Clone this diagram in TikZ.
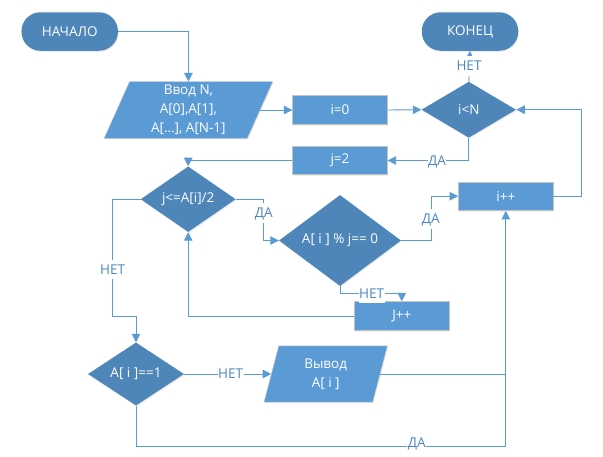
\documentclass[tikz,border=0pt]{standalone}
\usepackage{fontspec}
\setmainfont{Open Sans}
\usetikzlibrary{shapes.geometric,arrows.meta,shadows}

\definecolor{darkbox}{HTML}{4E86B9}
\definecolor{lightbox}{HTML}{5B9BD5}
\definecolor{wire}{HTML}{5B9BD5}
\definecolor{edgegrey}{HTML}{C4C4C4}
\definecolor{labelblue}{HTML}{4A86C0}

\begin{document}
\begin{tikzpicture}[x=1pt,y=-1pt,
  font=\fontsize{13.5}{19}\selectfont,
  every node/.style={text=white, inner sep=0pt, align=center},
  soft/.style={drop shadow={opacity=0.13, shadow xshift=0.9pt, shadow yshift=-1.3pt}},
  terminal/.style={rectangle, rounded corners=19pt, fill=darkbox,
    minimum width=96.5pt, minimum height=38.5pt, soft},
  process/.style={rectangle, fill=lightbox, draw=edgegrey, line width=0.8pt,
    minimum width=94.5pt, minimum height=28.5pt, soft},
  decision/.style={diamond, fill=darkbox, soft},
  iobox/.style={trapezium, trapezium stretches body, fill=lightbox,
    draw=edgegrey, line width=0.4pt, soft},
  flow/.style={draw=wire, line width=0.9pt},
  arrow/.style={flow, -{Triangle[length=8.5pt,width=8.5pt]}},
  lab/.style={fill=white, text=labelblue, inner xsep=0.6pt, inner ysep=5pt,
    text height=9.6pt, text depth=0pt}]

\useasboundingbox (0,0) rectangle (603,456);

% terminals
\node[terminal] (start) at (69.7,31.5) {НАЧАЛО};
\node[terminal] (stop)  at (470,31.5) {КОНЕЦ};

% input block
\node[iobox, trapezium left angle=63, trapezium right angle=117,
  minimum width=168.5pt, minimum height=56.6pt] (input) at (188.4,110)
  {Ввод N,\\A[0],A[1],\\A[…], A[N-1]};

% processing blocks
\node[process] (init) at (340,110) {i=0};
\node[process] (setj) at (340,160.5) {j=2};
\node[process] (inci) at (505.8,196.2) {i++};
\node[process] (incj) at (401.8,316) {J++};

% decisions
\node[decision, minimum width=94.5pt, minimum height=56pt] (loopi) at (468.8,109.7) {i<N};
\node[decision, minimum width=95pt, minimum height=57pt] (loopj) at (188.2,199.2) {j<=A[i]/2};
\node[decision, minimum width=122pt, minimum height=91pt] (divides) at (340,240.5) {A[ i ] \% j== 0};
\node[decision, minimum width=96pt, minimum height=56.5pt] (isone) at (136,374) {A[ i ]==1};

% output block
\node[iobox, trapezium left angle=64.4, trapezium right angle=115.6,
  minimum width=123.3pt, minimum height=56.3pt] (output) at (325.7,374)
  {Вывод\\A[ i ]};

% bend point of the "no" branch of the inner loop
\coordinate (bendA) at (112.7,316.7);

% connectors
\draw[arrow] (start.east) -| (input.north);
\draw[arrow] (input.right side) -- (init.west);
\draw[arrow] (init.east) -- (loopi.west);
\draw[arrow] (loopi.north) -- (stop.south);
\draw[arrow] (loopi.south) |- (setj.east);
\draw[arrow] (setj.west) -| (loopj.north);
\draw[arrow] (loopj.east) -- ++(28,0) |- (divides.west);
\draw[arrow] (divides.east) -- ++(30.7,0) |- (inci.west);
\draw[arrow] (divides.south) -- ++(0,7.3) -| (incj.north);
\draw[arrow] (incj.west) -| (loopj.south);
\draw[arrow] (loopj.west) -| (bendA) -| (isone.north);
\draw[arrow] (isone.east) -- (output.left side);
\draw[flow] (output.right side) -- (output.right side -| inci.south);
\draw[arrow] (isone.south) -- ++(0,40.3) -| (inci.south);
\draw[arrow] (inci.east) -- ++(28.4,0) |- (loopi.east);

% branch labels
\node[lab] (noEnd)   at (469,66)      {НЕТ};
\node[lab] (yesJ)    at (437,160.5)   {ДА};
\node[lab] (yesDiv)  at (263.7,213)   {ДА};
\node[lab] (yesInc)  at (430.7,219)   {ДА};
\node[lab] (noDiv)   at (371.7,293.3) {НЕТ};
\node[lab] (noLoop)  at (112.7,269.3) {НЕТ};
\node[lab] (noOne)   at (230.7,374)   {НЕТ};
\node[lab] (yesOne)  at (416.7,442.3) {ДА};

\end{tikzpicture}
\end{document}
